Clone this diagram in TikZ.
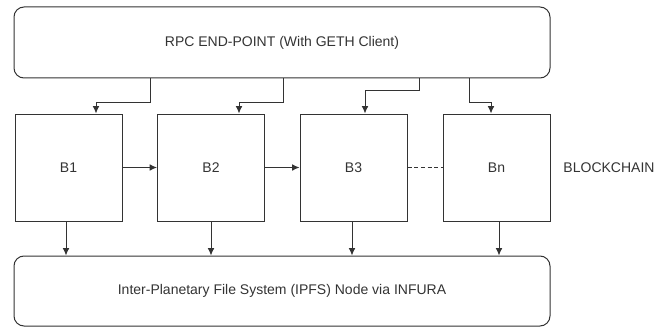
\documentclass[tikz,border=0pt]{standalone}
\usepackage{fontspec}
\setmainfont{Liberation Sans}
\usetikzlibrary{arrows.meta}
\definecolor{ln}{HTML}{333333}
\definecolor{tx}{HTML}{333333}
\begin{document}
\begin{tikzpicture}[x=0.75pt,y=-0.75pt,
  font=\fontsize{10.5pt}{12pt}\selectfont,
  every node/.style={text=tx},
  bigbox/.style={draw=ln,line width=0.75pt,rounded corners=7.5pt,minimum width=402pt,inner sep=0pt},
  blockbox/.style={draw=ln,line width=0.75pt,minimum width=80.25pt,minimum height=80.25pt,inner sep=0pt},
  arr/.style={draw=ln,line width=0.75pt,-{Latex[length=5.5pt,width=5pt]}},
  dash line/.style={draw=ln,line width=0.75pt,dashed,dash pattern=on 3pt off 2pt}]
\useasboundingbox (0,0) rectangle (667,328);
\node[bigbox,minimum height=53.25pt] (top) at (282,42.5) {RPC END-POINT (With GETH Client)};
\node[blockbox] (B1) at (68.5,167.5) {B1};
\node[blockbox] (B2) at (211,167.5) {B2};
\node[blockbox] (B3) at (353.5,167.5) {B3};
\node[blockbox] (Bn) at (496.5,167.5) {Bn};
\node (chain) at (609,168) {BLOCKCHAIN};
\node[bigbox,minimum height=52.5pt] (bot) at (282,291) {Inter-Planetary File System (IPFS) Node via INFURA};
% top to blocks
\draw[arr] (150,0 |- top.south) |- (96,102) -- (96,0 |- B1.north);
\draw[arr] (283,0 |- top.south) |- (239,102) -- (239,0 |- B2.north);
\draw[arr] (419,0 |- top.south) |- (365,90) -- (365,0 |- B3.north);
\draw[arr] (469,0 |- top.south) |- (491,102) -- (491,0 |- Bn.north);
% chain
\draw[arr] (B1) -- (B2);
\draw[arr] (B2) -- (B3);
\draw[dash line] (B3) -- (Bn);
% blocks to bottom
\draw[arr] (66,0 |- B1.south) -- (66,0 |- bot.north);
\draw[arr] (211,0 |- B2.south) -- (211,0 |- bot.north);
\draw[arr] (352,0 |- B3.south) -- (352,0 |- bot.north);
\draw[arr] (499,0 |- Bn.south) -- (499,0 |- bot.north);
\end{tikzpicture}
\end{document}
